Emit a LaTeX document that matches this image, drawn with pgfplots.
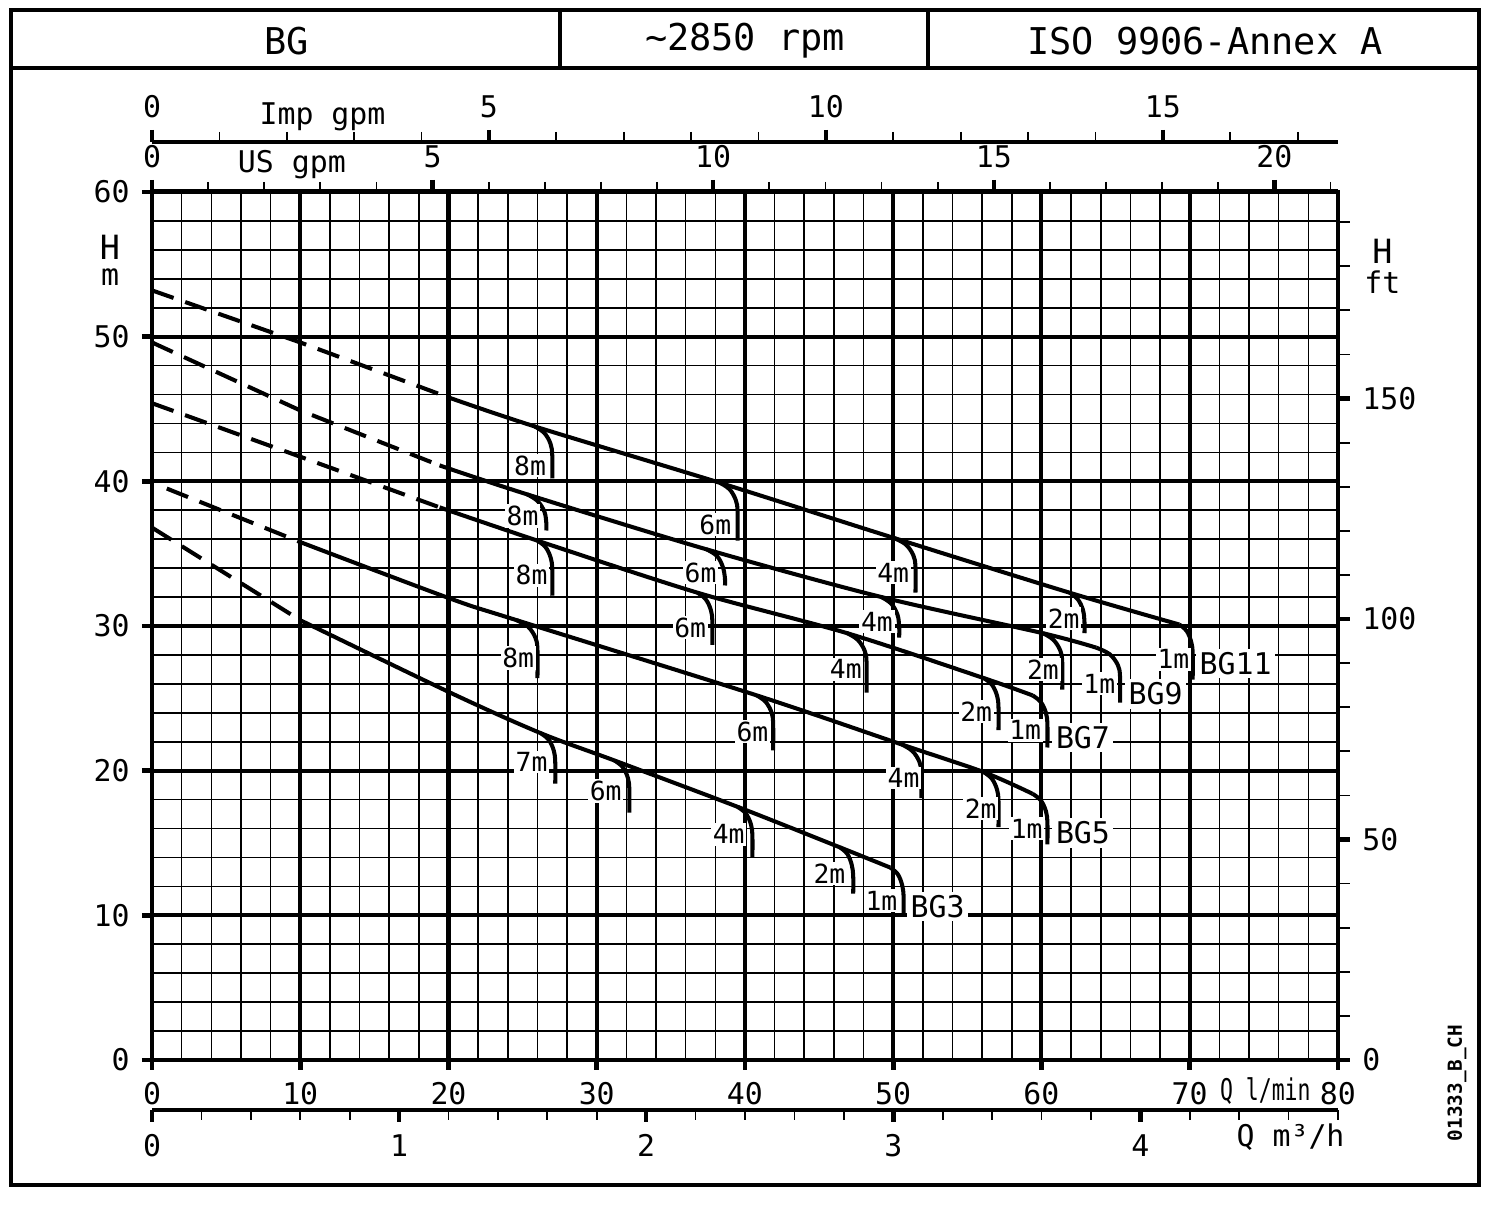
\documentclass[border=0pt]{standalone}
\usepackage{pgfplots}
\pgfplotsset{compat=1.18}
\usepackage{graphicx}
\usepackage{fontspec}
\setmainfont{DejaVu Sans Mono}
\begin{document}
\begin{tikzpicture}[x=1cm,y=1cm]
\path[use as bounding box] (0,0) rectangle (15,12.05);
% frame and header
\draw[line width=1.3pt] (0.11,0.20) rectangle (14.79,11.95);
\draw[line width=1.3pt] (0.11,11.37) -- (14.79,11.37);
\draw[line width=1.3pt] (5.60,11.37) -- (5.60,11.95);
\draw[line width=1.3pt] (9.28,11.37) -- (9.28,11.95);
\node[font=\fontsize{10.5}{12}\selectfont] at (2.87,11.64) {BG};
\node[font=\fontsize{10.5}{12}\selectfont] at (7.45,11.64) {\textasciitilde2850 rpm};
\node[font=\fontsize{10.5}{12}\selectfont] at (12.05,11.64) {ISO 9906-Annex A};
\node[font=\fontsize{5.5}{6}\selectfont\bfseries, rotate=90] at (14.57,1.22) {01333\_B\_CH};

\tikzset{
  lab/.style={fill=white, inner sep=0.5pt, font=\fontsize{7.5}{8}\selectfont},
  blab/.style={fill=white, inner sep=1pt, font=\fontsize{8.5}{10}\selectfont},
}
\pgfplotsset{
  base/.style={scale only axis, width=11.86cm, height=8.68cm,
    /pgf/number format/assume math mode=true,
    ticklabel style={font=\fontsize{8.5}{10}\selectfont},
    axis line style={line width=1.4pt},
    tick align=outside, clip=false},
  curve/.style={line width=1.15pt, black},
  dcurve/.style={line width=1.15pt, black, dash pattern=on 6.5pt off 3.5pt},
  hook/.style={line width=1.15pt, black, smooth, tension=0.6},
}

% main axis
\begin{axis}[base, at={(1.52cm,1.45cm)}, anchor=south west,
  xmin=0, xmax=80, ymin=0, ymax=60,
  xtick={0,10,...,80}, ytick={0,10,...,60},
  minor x tick num=4, minor y tick num=4,
  grid=both, tick pos=left,
  major grid style={line width=1.15pt, black},
  minor grid style={line width=0.45pt, black},
  major tick length=0.1cm, minor tick length=0pt,
  every major tick/.style={line width=1.3pt, black},
]
% BG11
\addplot[dcurve] coordinates {(0,53.2) (10,49.6) (20,45.8)};
\addplot[curve, smooth] coordinates {(20,45.8) (25.8,43.8) (38.3,39.9) (50,36.1) (61.9,32.3) (69.3,30.1)};
\addplot[hook] coordinates {(69.3,30.1) (69.8,29.65) (70.1,28.9) (70.2,28.1) (70.2,26.3)};
\addplot[hook] coordinates {(25.8,43.8) (26.46,43.35) (26.88,42.6) (27.0,41.8) (27.0,40.2)};
\addplot[hook] coordinates {(38.3,39.9) (38.96,39.45) (39.38,38.7) (39.5,37.9) (39.5,35.9)};
\addplot[hook] coordinates {(50.0,36.1) (50.83,35.65) (51.35,34.9) (51.5,34.1) (51.5,32.3)};
\addplot[hook] coordinates {(61.9,32.3) (62.45,31.85) (62.8,31.1) (62.9,30.3) (62.9,29.5)};
% BG9
\addplot[dcurve] coordinates {(0,49.6) (10,44.9) (19.4,41.1)};
\addplot[curve, smooth] coordinates {(19.4,41.1) (25.3,39.1) (37.4,35.3) (49.2,32.0) (60.1,29.5) (63.7,28.5)};
\addplot[hook] coordinates {(63.7,28.5) (64.6,28.05) (65.15,27.3) (65.3,26.5) (65.3,24.7)};
\addplot[hook] coordinates {(25.3,39.1) (26.0,38.65) (26.47,37.9) (26.6,37.1) (26.6,36.6)};
\addplot[hook] coordinates {(37.4,35.3) (38.1,34.85) (38.5,34.1) (38.65,33.3) (38.65,32.8)};
\addplot[hook] coordinates {(49.2,32.0) (49.86,31.55) (50.28,30.8) (50.4,30.0) (50.4,29.2)};
\addplot[hook] coordinates {(60.1,29.5) (60.8,29.05) (61.27,28.3) (61.4,27.5) (61.4,25.6)};
% BG7
\addplot[dcurve] coordinates {(0,45.4) (10,41.7) (19.4,38.2)};
\addplot[curve, smooth] coordinates {(19.4,38.2) (26.0,35.9) (36.8,32.3) (46.9,29.5) (56.1,26.4) (59.4,25.2)};
\addplot[hook] coordinates {(59.4,25.2) (59.95,24.75) (60.3,24.0) (60.4,23.2) (60.4,21.6)};
\addplot[hook] coordinates {(26.0,35.9) (26.55,35.45) (26.9,34.7) (27.0,33.9) (27.0,32.1)};
\addplot[hook] coordinates {(36.8,32.3) (37.35,31.85) (37.7,31.1) (37.8,30.3) (37.8,28.7)};
\addplot[hook] coordinates {(46.9,29.5) (47.6,29.05) (48.07,28.3) (48.2,27.5) (48.2,25.4)};
\addplot[hook] coordinates {(56.1,26.4) (56.65,25.95) (57.0,25.2) (57.1,24.4) (57.1,22.8)};
% BG5
\addplot[dcurve] coordinates {(1.0,39.5) (10,35.8)};
\addplot[curve, smooth] coordinates {(10,35.8) (20.1,31.9) (24.6,30.4) (40.8,25.2) (50.6,21.8) (56.1,19.9) (59.4,18.4)};
\addplot[hook] coordinates {(59.4,18.4) (59.95,17.95) (60.3,17.2) (60.4,16.4) (60.4,14.9)};
\addplot[hook] coordinates {(24.6,30.4) (25.37,29.95) (25.86,29.2) (26.0,28.4) (26.0,26.4)};
\addplot[hook] coordinates {(40.8,25.2) (41.4,24.75) (41.8,24.0) (41.9,23.2) (41.9,21.4)};
\addplot[hook] coordinates {(50.6,21.8) (51.3,21.35) (51.77,20.6) (51.9,19.8) (51.9,18.1)};
\addplot[hook] coordinates {(56.1,19.9) (56.65,19.45) (57.0,18.7) (57.1,17.9) (57.1,16.1)};
% BG3
\addplot[dcurve] coordinates {(0,36.8) (10,30.4)};
\addplot[curve, smooth] coordinates {(10,30.4) (20.1,25.4) (26.2,22.6) (31.2,20.7) (39.5,17.5) (46.4,14.7) (49.8,13.3)};
\addplot[hook] coordinates {(49.8,13.3) (50.3,12.85) (50.6,12.1) (50.7,11.3) (50.7,10.0)};
\addplot[hook] coordinates {(26.2,22.6) (26.75,22.15) (27.1,21.4) (27.2,20.6) (27.2,19.1)};
\addplot[hook] coordinates {(31.2,20.7) (31.75,20.25) (32.1,19.5) (32.2,18.7) (32.2,17.1)};
\addplot[hook] coordinates {(39.5,17.5) (40.05,17.05) (40.4,16.3) (40.5,15.5) (40.5,14.0)};
\addplot[hook] coordinates {(46.4,14.7) (46.9,14.25) (47.2,13.5) (47.3,12.7) (47.3,11.5)};
% labels BG11
\node[lab] at (axis cs:25.5,41.1) {8m};
\node[lab] at (axis cs:38.0,37.0) {6m};
\node[lab] at (axis cs:50.0,33.7) {4m};
\node[lab] at (axis cs:61.5,30.5) {2m};
\node[lab] at (axis cs:68.9,27.7) {1m};
\node[blab] at (axis cs:73.1,27.4) {BG11};
% labels BG9
\node[lab] at (axis cs:25.0,37.6) {8m};
\node[lab] at (axis cs:37.0,33.7) {6m};
\node[lab] at (axis cs:48.9,30.3) {4m};
\node[lab] at (axis cs:60.1,27.0) {2m};
\node[lab] at (axis cs:63.9,26.0) {1m};
\node[blab] at (axis cs:67.7,25.3) {BG9};
% labels BG7
\node[lab] at (axis cs:25.6,33.5) {8m};
\node[lab] at (axis cs:36.3,29.9) {6m};
\node[lab] at (axis cs:46.8,27.0) {4m};
\node[lab] at (axis cs:55.6,24.1) {2m};
\node[lab] at (axis cs:58.9,22.8) {1m};
\node[blab] at (axis cs:62.8,22.3) {BG7};
% labels BG5
\node[lab] at (axis cs:24.7,27.8) {8m};
\node[lab] at (axis cs:40.5,22.7) {6m};
\node[lab] at (axis cs:50.7,19.5) {4m};
\node[lab] at (axis cs:55.9,17.4) {2m};
\node[lab] at (axis cs:59.0,16.0) {1m};
\node[blab] at (axis cs:62.8,15.7) {BG5};
% labels BG3
\node[lab] at (axis cs:25.6,20.6) {7m};
\node[lab] at (axis cs:30.6,18.6) {6m};
\node[lab] at (axis cs:38.9,15.6) {4m};
\node[lab] at (axis cs:45.7,12.9) {2m};
\node[lab] at (axis cs:49.2,11.0) {1m};
\node[blab] at (axis cs:53.0,10.6) {BG3};
% axis names
\node[font=\fontsize{9.5}{10}\selectfont] at (axis cs:-2.83,56.2) {H};
\node[font=\fontsize{8.5}{10}\selectfont] at (axis cs:-2.83,54.1) {m};
\node[font=\fontsize{9.5}{10}\selectfont] at (axis cs:83.0,55.9) {H};
\node[font=\fontsize{8.5}{10}\selectfont] at (axis cs:83.0,53.8) {ft};
\node[font=\fontsize{8.5}{10}\selectfont] at (axis cs:9.44,61.9) {US gpm};
\node[font=\fontsize{8.5}{10}\selectfont] at (axis cs:11.5,65.2) {Imp gpm};
\node[font=\fontsize{8.5}{10}\selectfont] at (axis cs:75.1,-2.15) {\scalebox{0.72}[1]{Q l/min}};
\node[font=\fontsize{8.5}{10}\selectfont] at (axis cs:76.8,-5.3) {Q m³/h};
\end{axis}

% right ft axis
\begin{axis}[base, at={(1.52cm,1.45cm)}, anchor=south west,
  xmin=0, xmax=80, ymin=0, ymax=196.85,
  axis x line=none, axis y line*=right,
  ytick={0,50,100,150},
  minor ytick={10,20,30,40,60,70,80,90,110,120,130,140,160,170,180,190},
  major tick length=0.12cm, minor tick length=0.12cm,
  every major tick/.style={line width=1.3pt, black},
  every minor tick/.style={line width=0.5pt, black},
]
\end{axis}

% US gpm axis (top of main)
\begin{axis}[base, at={(1.52cm,1.45cm)}, anchor=south west,
  xmin=0, xmax=21.1338, ymin=0, ymax=1,
  axis x line*=top, axis y line=none,
  xtick={0,5,10,15,20},
  minor xtick={1,2,3,4,6,7,8,9,11,12,13,14,16,17,18,19,21},
  major tick length=0.12cm, minor tick length=0.1cm,
  every major tick/.style={line width=1.3pt, black},
  every minor tick/.style={line width=0.5pt, black},
]
\end{axis}

% Imp gpm axis
\begin{axis}[base, height=1cm, at={(1.52cm,10.63cm)}, anchor=north west,
  xmin=0, xmax=17.598, ymin=0, ymax=1,
  axis x line*=top, axis y line=none,
  xtick={0,5,10,15},
  minor xtick={1,2,3,4,6,7,8,9,11,12,13,14,16,17},
  major tick length=0.12cm, minor tick length=0.1cm,
  every major tick/.style={line width=1.3pt, black},
  every minor tick/.style={line width=0.5pt, black},
]
\end{axis}

% m3/h axis
\begin{axis}[base, height=1cm, at={(1.52cm,0.95cm)}, anchor=south west,
  xmin=0, xmax=4.8, ymin=0, ymax=1,
  axis x line*=bottom, axis y line=none,
  xtick={0,1,2,3,4},
  minor xtick={0.2,0.4,0.6,0.8,1.2,1.4,1.6,1.8,2.2,2.4,2.6,2.8,3.2,3.4,3.6,3.8,4.2,4.4,4.6,4.8},
  major tick length=0.12cm, minor tick length=0.1cm,
  every major tick/.style={line width=1.3pt, black},
  every minor tick/.style={line width=0.5pt, black},
]
\end{axis}
\end{tikzpicture}
\end{document}
